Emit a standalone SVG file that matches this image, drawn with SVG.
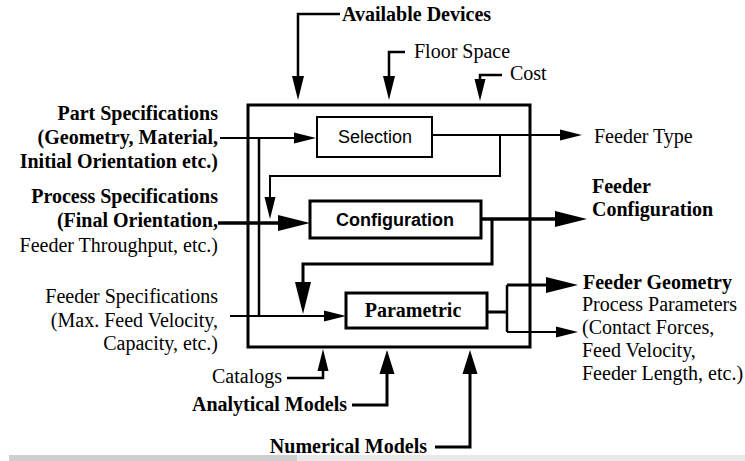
<svg xmlns="http://www.w3.org/2000/svg" width="745" height="461" viewBox="0 0 745 461">
<style>
text{font-family:"Liberation Serif","Times New Roman",serif;font-size:20px;fill:#000}
.b{font-weight:bold}
.e{text-anchor:end}
.c{text-anchor:middle}
.sans{font-family:"Liberation Sans",Arial,sans-serif;font-size:18px}
.box{fill:#fff;stroke:#000}
.ln{fill:none;stroke:#000;stroke-linejoin:miter}
</style>
<defs>
<marker id="aS" markerUnits="userSpaceOnUse" markerWidth="24" markerHeight="14" viewBox="0 -7 24 14" refX="0" refY="0" orient="auto" overflow="visible"><path d="M0,-5.5 L22,0 L0,5.5 z" fill="#000"/></marker>
<marker id="aM" markerUnits="userSpaceOnUse" markerWidth="26" markerHeight="14" viewBox="0 -7 26 14" refX="0" refY="0" orient="auto" overflow="visible"><path d="M0,-6 L24,0 L0,6 z" fill="#000"/></marker>
<marker id="aT" markerUnits="userSpaceOnUse" markerWidth="26" markerHeight="16" viewBox="0 -8 26 16" refX="0" refY="0" orient="auto" overflow="visible"><path d="M0,-7.5 L24,0 L0,7.5 z" fill="#000"/></marker>
<marker id="aL" markerUnits="userSpaceOnUse" markerWidth="34" markerHeight="18" viewBox="0 -9 34 18" refX="0" refY="0" orient="auto" overflow="visible"><path d="M0,-8 L32,0 L0,8 z" fill="#000"/></marker>
</defs>

<rect x="9" y="455" width="288" height="6" fill="#cfcfcf"/>
<rect x="297" y="455" width="448" height="6" fill="#e9e9e9"/>

<g id="system">
<rect x="248" y="105" width="282" height="242" fill="none" stroke="#000" stroke-width="3"/>
</g>

<g id="connectors">
<path class="ln" stroke-width="2.5" d="M340,14 H298 V76" marker-end="url(#aM)"/>
<path class="ln" stroke-width="2.5" d="M405,52 H389 V76" marker-end="url(#aM)"/>
<path class="ln" stroke-width="2.5" d="M502,75 H480 V79" marker-end="url(#aS)"/>
<path class="ln" stroke-width="2" d="M220,138 H294" marker-end="url(#aS)"/>
<path class="ln" stroke-width="2.5" d="M259,138 V316"/>
<path class="ln" stroke-width="3.5" d="M218,223 H278" marker-end="url(#aL)"/>
<path class="ln" stroke-width="2" d="M432,135 H560" marker-end="url(#aS)"/>
<path class="ln" stroke-width="2" d="M500,135 V176 H270 V197" marker-end="url(#aS)"/>
<path class="ln" stroke-width="3.5" d="M481,219 H555" marker-end="url(#aL)"/>
<path class="ln" stroke-width="3" d="M492,219 V264 H303 V282" marker-end="url(#aL)"/>
<path class="ln" stroke-width="2" d="M230,316 H324" marker-end="url(#aS)"/>
<path class="ln" stroke-width="3" d="M487,312 H507"/>
<path class="ln" stroke-width="2.5" d="M507,285 V332"/>
<path class="ln" stroke-width="3" d="M507,285 H546" marker-end="url(#aL)"/>
<path class="ln" stroke-width="2" d="M507,332 H556" marker-end="url(#aS)"/>
<path class="ln" stroke-width="2.5" d="M287,378 H323 V371" marker-end="url(#aS)"/>
<path class="ln" stroke-width="3" d="M352,405 H387 V374" marker-end="url(#aT)"/>
<path class="ln" stroke-width="3" d="M435,447 H470 V374" marker-end="url(#aT)"/>
</g>

<g id="selection">
<rect class="box" x="317" y="117" width="115" height="40" stroke-width="2"/>
<text class="sans c" x="375" y="143">Selection</text>
</g>
<g id="configuration">
<rect class="box" x="310" y="201" width="171" height="37" stroke-width="3"/>
<text class="sans b c" x="395" y="226">Configuration</text>
</g>
<g id="parametric">
<rect class="box" x="346" y="293" width="141" height="35" stroke-width="3"/>
<text class="b c" x="413" y="317">Parametric</text>
</g>

<g id="available-devices"><text class="b" x="342" y="21">Available Devices</text></g>
<g id="floor-space"><text x="414" y="58">Floor Space</text></g>
<g id="cost"><text x="510" y="80">Cost</text></g>

<g id="part-specifications">
<text class="b e" x="218" y="120">Part Specifications</text>
<text class="b e" x="218" y="144">(Geometry, Material,</text>
<text class="b e" x="218" y="168">Initial Orientation etc.)</text>
</g>
<g id="process-specifications">
<text class="b e" x="218" y="203">Process Specifications</text>
<text class="b e" x="218" y="227">(Final Orientation,</text>
<text class="e" x="218" y="252">Feeder Throughput, etc.)</text>
</g>
<g id="feeder-specifications">
<text class="e" x="218" y="303">Feeder Specifications</text>
<text class="e" x="218" y="327">(Max. Feed Velocity,</text>
<text class="e" x="218" y="350">Capacity, etc.)</text>
</g>

<g id="feeder-type"><text x="594" y="143">Feeder Type</text></g>
<g id="feeder-configuration">
<text class="b" x="592" y="193">Feeder</text>
<text class="b" x="592" y="216">Configuration</text>
</g>
<g id="feeder-geometry"><text class="b" x="583" y="289">Feeder Geometry</text></g>
<g id="process-parameters">
<text x="582" y="311">Process Parameters</text>
<text x="582" y="334">(Contact Forces,</text>
<text x="582" y="357">Feed Velocity,</text>
<text x="582" y="380">Feeder Length, etc.)</text>
</g>

<g id="catalogs"><text class="e" x="282" y="383">Catalogs</text></g>
<g id="analytical-models"><text class="b e" x="347" y="411">Analytical Models</text></g>
<g id="numerical-models"><text class="b e" x="427" y="453">Numerical Models</text></g>
</svg>
